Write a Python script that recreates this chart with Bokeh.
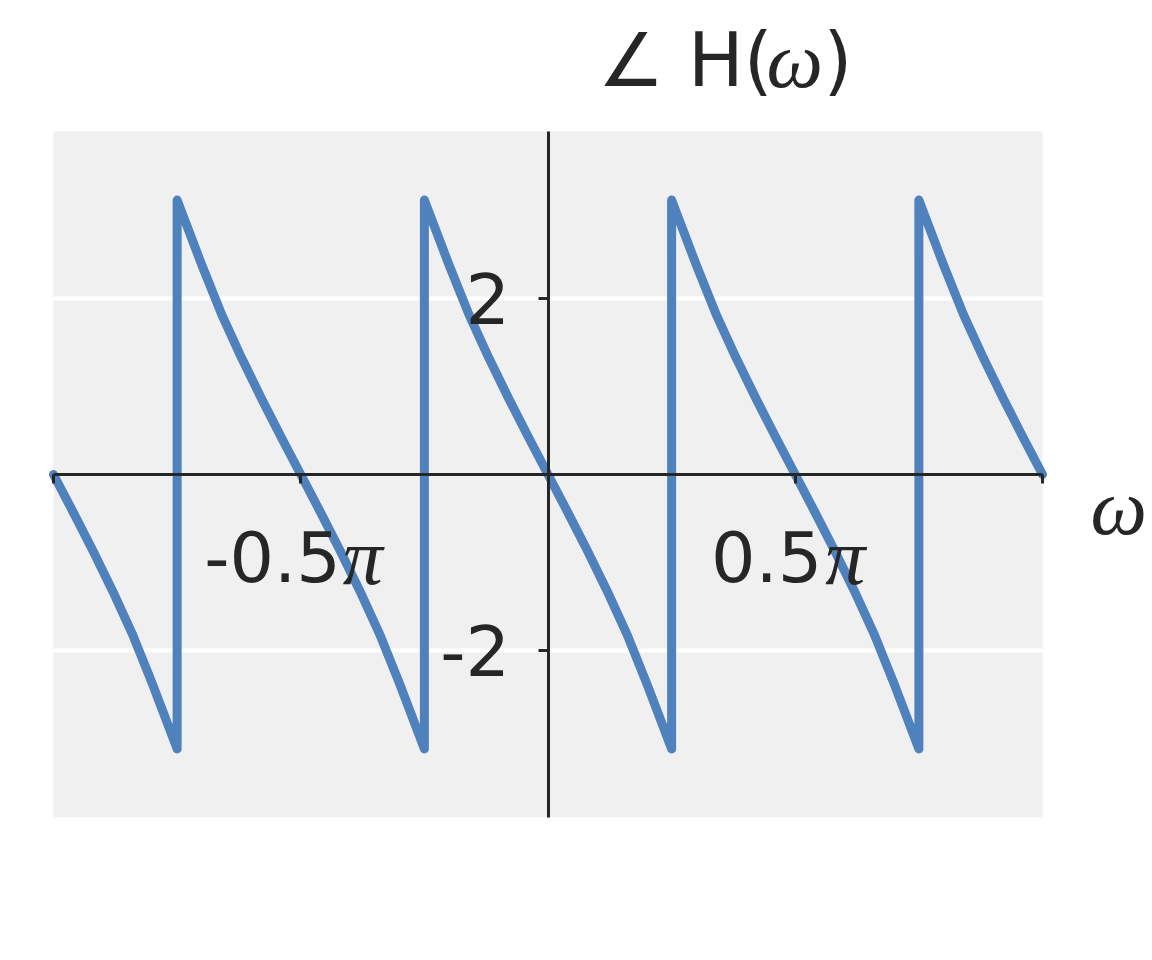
import numpy as np
from bokeh.plotting import figure
from bokeh.models import Range1d, LinearAxis, FixedTicker
from bokeh.core.properties import value
from bokeh.embed import file_html
from bokeh.resources import INLINE

# ---- data (omega in multiples of pi, phase in radians)
omega_over_pi = [
    -1.00, -0.96, -0.92, -0.88, -0.84, -0.80, -0.775, -0.75,
    -0.75, -0.725, -0.70, -0.66, -0.62, -0.58, -0.54, -0.50, -0.46, -0.42, -0.38, -0.34, -0.30, -0.275, -0.25,
    -0.25, -0.225, -0.20, -0.16, -0.12, -0.08, -0.04, 0.00, 0.04, 0.08, 0.12, 0.16, 0.20, 0.225, 0.25,
    0.25, 0.275, 0.30, 0.34, 0.38, 0.42, 0.46, 0.50, 0.54, 0.58, 0.62, 0.66, 0.70, 0.725, 0.75,
    0.75, 0.775, 0.80, 0.84, 0.88, 0.92, 0.96, 1.00,
]
phase = [
    0.00, -0.43, -0.87, -1.33, -1.82, -2.38, -2.75, -3.12,
    3.12, 2.75, 2.38, 1.82, 1.33, 0.87, 0.43, 0.00, -0.43, -0.87, -1.33, -1.82, -2.38, -2.75, -3.12,
    3.12, 2.75, 2.38, 1.82, 1.33, 0.87, 0.43, 0.00, -0.43, -0.87, -1.33, -1.82, -2.38, -2.75, -3.12,
    3.12, 2.75, 2.38, 1.82, 1.33, 0.87, 0.43, 0.00, -0.43, -0.87, -1.33, -1.82, -2.38, -2.75, -3.12,
    3.12, 2.75, 2.38, 1.82, 1.33, 0.87, 0.43, 0.00,
]
x_ticks_over_pi = [-1.0, -0.5, 0.0, 0.5, 1.0]
x_label_ticks_over_pi = [-0.5, 0.5]
x_label_numbers = ["-0.5", "0.5"]
y_ticks = [-2, 2]
y_tick_labels = ["-2", "2"]
title_parts = ["\u2220 H(", "\u03c9", ")"]
x_label = "\u03c9"

PI = np.pi
omega = np.array(omega_over_pi) * PI
X_LIM = (-PI, PI)
Y_LIM = (-3.9, 3.9)

SANS = "DejaVu Sans"
MATH = "Liberation Serif"
INK = "#262626"

# canvas and plot-area geometry (pixels)
W, H = 1150, 944
AREA_L, AREA_R, AREA_T, AREA_B = 53, 1042, 131, 817
SX = (AREA_R - AREA_L) / (X_LIM[1] - X_LIM[0])
SY = (AREA_B - AREA_T) / (Y_LIM[1] - Y_LIM[0])
BASE_SHIFT = 27  # Bokeh draws alphabetic baselines this many px lower


def px2x(px):
    return X_LIM[0] + (px - AREA_L) / SX


def py2y(py):
    return Y_LIM[1] - (py - AREA_T) / SY


p = figure(
    width=W, height=H,
    x_range=Range1d(px2x(0), px2x(W)), y_range=Range1d(py2y(H), py2y(0)),
    x_axis_location=None, y_axis_location=None,
    min_border=0,
    output_backend="svg", toolbar_location=None,
    background_fill_color="white", border_fill_color="white",
)
p.outline_line_color = None
for g in p.grid:
    g.visible = False

# plot area background and horizontal grid
p.quad(left=[X_LIM[0]], right=[X_LIM[1]], bottom=[Y_LIM[0]], top=[Y_LIM[1]],
       fill_color="#f0f0f0", line_color=None)
p.segment(x0=[X_LIM[0]] * len(y_ticks), x1=[X_LIM[1]] * len(y_ticks),
          y0=y_ticks, y1=y_ticks, line_color="white", line_width=4)

p.line(omega, phase, line_width=9, line_color="#4f81bd",
       line_cap="round", line_join="round")

xaxis = LinearAxis(fixed_location=0, bounds=X_LIM,
                   ticker=FixedTicker(ticks=[t * PI for t in x_ticks_over_pi]))
xaxis.major_label_text_font_size = "0px"
xaxis.major_label_text_color = None
xaxis.axis_line_color = INK
xaxis.axis_line_width = 3
xaxis.major_tick_line_color = INK
xaxis.major_tick_line_width = 3
xaxis.major_tick_in = 0
xaxis.major_tick_out = 9
xaxis.minor_tick_line_color = None
p.add_layout(xaxis, "below")

yaxis = LinearAxis(fixed_location=0, bounds=Y_LIM, ticker=FixedTicker(ticks=y_ticks))
yaxis.major_label_overrides = {t: s for t, s in zip(y_ticks, y_tick_labels)}
yaxis.major_label_text_font = SANS
yaxis.major_label_text_font_size = "70px"
yaxis.major_label_text_color = INK
yaxis.major_label_standoff = 28
yaxis.axis_line_color = INK
yaxis.axis_line_width = 3
yaxis.major_tick_line_color = INK
yaxis.major_tick_line_width = 3
yaxis.major_tick_in = 0
yaxis.major_tick_out = 10
yaxis.minor_tick_line_color = None
p.add_layout(yaxis, "left")

# x tick labels (centred on their ticks): number in sans + italic pi
tick_x = [t * PI for t in x_label_ticks_over_pi]
num_right_px = [40, 27]
pi_left_px = [42, 30]
base_y = py2y(583 - BASE_SHIFT)
p.text(x=[t + d / SX for t, d in zip(tick_x, num_right_px)], y=[base_y] * len(tick_x),
       text=x_label_numbers, text_align="right", text_baseline="alphabetic",
       text_font=value(SANS), text_font_size="70px", text_color=INK)
p.text(x=[t + d / SX for t, d in zip(tick_x, pi_left_px)], y=[base_y] * len(tick_x),
       text=["\u03c0"] * len(tick_x), text_align="left", text_baseline="alphabetic",
       text_font=value(MATH), text_font_style="italic", text_font_size="80px", text_color=INK)

# x axis label
p.text(x=[px2x(1090)], y=[py2y(533 - BASE_SHIFT)], text=[x_label],
       text_align="left", text_baseline="alphabetic",
       text_font=value(MATH), text_font_style="italic", text_font_size="80px", text_color=INK)

# title
ty = py2y(86 - BASE_SHIFT)
p.text(x=[px2x(772)], y=[ty], text=[title_parts[0]], text_align="right",
       text_baseline="alphabetic", text_font=value(SANS), text_font_size="74px", text_color=INK)
p.text(x=[px2x(766)], y=[ty], text=[title_parts[1]], text_align="left",
       text_baseline="alphabetic", text_font=value(MATH), text_font_style="italic",
       text_font_size="80px", text_color=INK)
p.text(x=[px2x(823)], y=[ty], text=[title_parts[2]], text_align="left",
       text_baseline="alphabetic", text_font=value(SANS), text_font_size="74px", text_color=INK)

open("out.html", "w").write(file_html(p, INLINE))
